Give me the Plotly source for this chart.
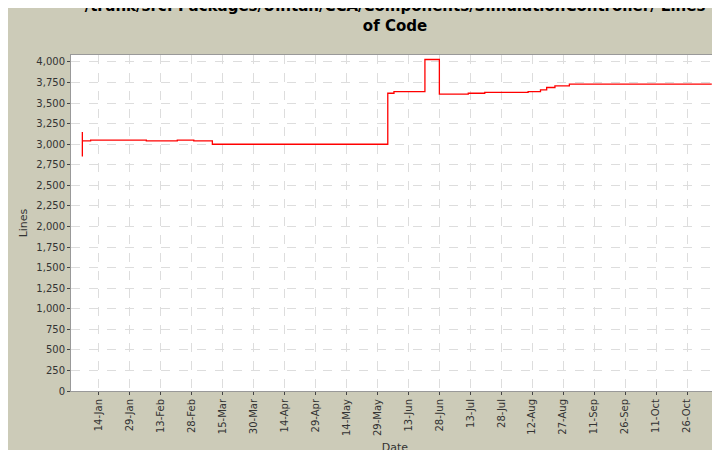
import pandas as pd
import plotly.graph_objects as go

# step points (date where the value starts, lines of code)
dates = ["2007-01-06", "2007-01-06", "2007-01-06", "2007-01-10", "2007-02-06", "2007-02-21",
         "2007-03-01", "2007-03-10", "2007-06-03", "2007-06-06", "2007-06-21", "2007-06-28",
         "2007-07-12", "2007-07-20", "2007-08-10", "2007-08-16", "2007-08-19", "2007-08-23",
         "2007-08-30", "2007-11-07"]
lines = [2850, 3150, 3040, 3050, 3040, 3050, 3040, 3000, 3620, 3640, 4030, 3610,
         3620, 3630, 3640, 3660, 3690, 3710, 3730, 3730]

tick_dates = pd.date_range("2007-01-14", "2007-11-10", freq="15D")
tick_text = [d.strftime("%d-%b") for d in tick_dates]

fig = go.Figure()
fig.add_trace(go.Scatter(
    x=pd.to_datetime(dates), y=lines, mode="lines", line_shape="hv",
    line=dict(color="#ff0000", width=1.3), showlegend=False,
))

axis_font = dict(family="DejaVu Sans", size=10, color="#333333")
fig.update_layout(
    width=720, height=450,
    paper_bgcolor="#cccbb8", plot_bgcolor="white",
    margin=dict(l=63, r=9, t=47, b=67, autoexpand=False),
    title=dict(text="<b>/trunk/src: Packages/Uintah/CCA/Components/SimulationController/ Lines<br>of Code</b>",
               x=0.5, y=0.993, xref="paper", yref="container", xanchor="center", yanchor="top",
               font=dict(family="DejaVu Sans", size=15, color="black")),
    font=axis_font,
)
fig.update_xaxes(
    range=[pd.Timestamp("2006-12-31 12:00"), pd.Timestamp("2007-11-10 12:00")],
    tickvals=tick_dates, ticktext=tick_text, tickangle=-90, automargin=False,
    showgrid=True, gridcolor="#dddddd", griddash="dash",
    ticks="outside", ticklen=3, showline=True, linecolor="#999999", mirror=True,
    title=dict(text="Date", standoff=8, font=dict(family="DejaVu Sans", size=11, color="#333333")),
    tickfont=axis_font,
)
fig.update_yaxes(
    range=[0, 4085], dtick=250, tickformat=",", automargin=False,
    showgrid=True, gridcolor="#dddddd", griddash="dash",
    ticks="outside", ticklen=3, showline=True, linecolor="#999999", mirror=True,
    title=dict(text="Lines", standoff=6, font=dict(family="DejaVu Sans", size=11, color="#333333")),
    tickfont=axis_font, zeroline=False,
)
fig.write_html("out.html")
